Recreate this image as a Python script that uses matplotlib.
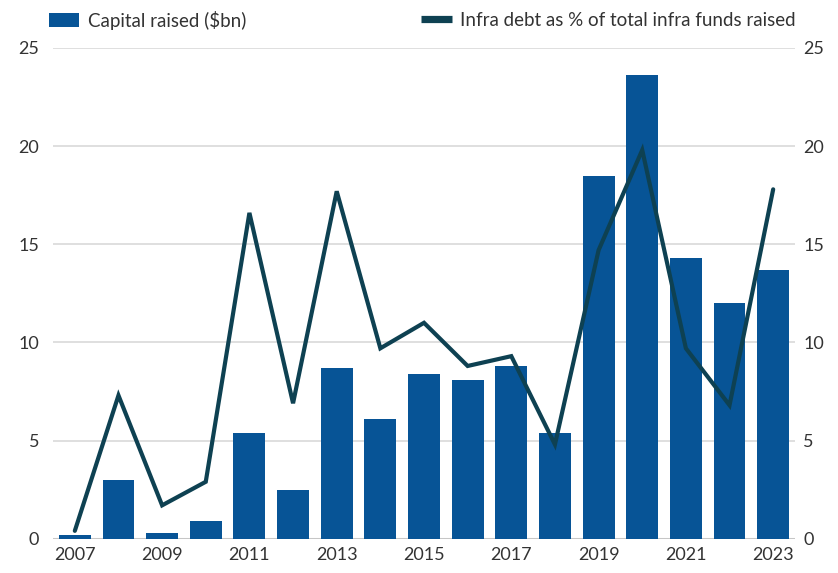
import matplotlib
matplotlib.use("Agg")
import matplotlib.pyplot as plt
from matplotlib.patches import Patch
from matplotlib.lines import Line2D

years = [str(y) for y in range(2007, 2024)]
capital_raised = [0.2, 3.0, 0.3, 0.9, 5.4, 2.5, 8.7, 6.1, 8.4, 8.1, 8.8, 5.4, 18.5, 23.6, 14.3, 12.0, 13.7]
debt_share = [0.4, 7.3, 1.7, 2.9, 16.6, 6.9, 17.7, 9.7, 11.0, 8.8, 9.3, 4.8, 14.7, 19.8, 9.7, 6.8, 17.8]
yticks = [0, 5, 10, 15, 20, 25]

bar_color = "#075496"
line_color = "#0E4152"
text_color = "#333333"

plt.rcParams['font.family'] = ['Lato', 'DejaVu Sans']

fig = plt.figure(figsize=(8.38, 5.73), dpi=100)
ax = fig.add_axes([53/838, 1 - 538.7/573, (795-53)/838, (538.7-48)/573])
x = list(range(len(years)))

ax.set_axisbelow(True)
for v in yticks[1:]:
    ax.axhline(v, color="#d9d9d9", lw=1.2, zorder=0)
ax.axhline(0, color="#c6c6c6", lw=2.2, zorder=1)

ax.bar(x, capital_raised, width=0.73, color=bar_color, zorder=2)
ax.set_xlim(-0.5, len(years) - 0.5)
ax.set_ylim(0, 25)
ax.set_yticks(yticks)
ax.set_xticks(x[::2])
ax.set_xticklabels(years[::2])
for s in ax.spines.values():
    s.set_visible(False)
ax.tick_params(length=0, labelsize=13, colors=text_color, pad=6)
ax.tick_params(axis='y', pad=10)

ax2 = ax.twinx()
ax2.plot(x, debt_share, color=line_color, lw=3.0, solid_capstyle='round', solid_joinstyle='miter', zorder=3)
ax2.set_ylim(0, 25)
ax2.set_yticks(yticks)
for s in ax2.spines.values():
    s.set_visible(False)
ax2.tick_params(length=0, labelsize=13, colors=text_color, pad=6)

fs = 13.5
h1 = Patch(facecolor=bar_color, edgecolor='none')
h2 = Line2D([0], [0], color=line_color, lw=5.2, solid_capstyle='butt')
fig.legend([h1], ["Capital raised ($bn)"], loc='center left', bbox_to_anchor=(49/838, 1 - 20/573),
           frameon=False, fontsize=fs, handlelength=1.6, handleheight=0.75, handletextpad=0.48,
           labelcolor=text_color, borderpad=0, borderaxespad=0)
fig.legend([h2], ["Infra debt as % of total infra funds raised"], loc='center right',
           bbox_to_anchor=(796/838, 1 - 20/573),
           frameon=False, fontsize=fs, handlelength=1.65, handletextpad=0.43,
           labelcolor=text_color, borderpad=0, borderaxespad=0)

fig.savefig("out.png", dpi=100)
